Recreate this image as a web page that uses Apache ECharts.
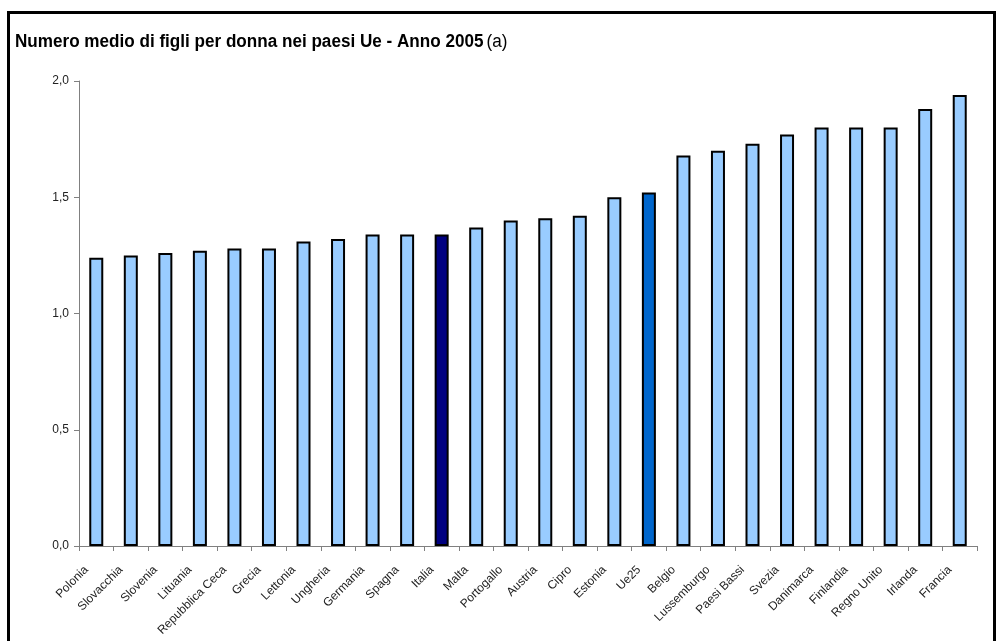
<!DOCTYPE html>
<html>
<head>
<meta charset="utf-8">
<script src="https://cdn.jsdelivr.net/npm/echarts@6/dist/echarts.min.js"></script>
<style>html,body{margin:0;padding:0;background:#fff;}#chart{width:1002px;height:641px;}</style>
</head>
<body>
<div id="chart"></div>
<script>
const categories = ["Polonia","Slovacchia","Slovenia","Lituania","Repubblica Ceca","Grecia","Lettonia","Ungheria","Germania","Spagna","Italia","Malta","Portogallo","Austria","Cipro","Estonia","Ue25","Belgio","Lussemburgo","Paesi Bassi","Svezia","Danimarca","Finlandia","Regno Unito","Irlanda","Francia"];
const values = [1.24,1.25,1.26,1.27,1.28,1.28,1.31,1.32,1.34,1.34,1.34,1.37,1.40,1.41,1.42,1.50,1.52,1.68,1.70,1.73,1.77,1.80,1.80,1.80,1.88,1.94];
const yTicks = [0, 0.5, 1.0, 1.5, 2.0];
const titleMain = "Numero medio di figli per donna nei paesi Ue - Anno 2005";
const titleNote = "(a)";

const FONT = '"Liberation Sans", Arial, sans-serif';
const colorFor = (name) => name === 'Italia' ? '#000080' : (name === 'Ue25' ? '#0066CC' : '#99CCFF');

const chart = echarts.init(document.getElementById('chart'), null, {renderer: 'canvas'});
chart.setOption({
  backgroundColor: '#ffffff',
  animation: false,
  graphic: [
    {type: 'rect', shape: {x: 8.5, y: 12.5, width: 986, height: 640}, style: {fill: 'none', stroke: '#000', lineWidth: 3}, silent: true},
    {
      type: 'text', x: 15, y: 42, scaleX: 0.95, silent: true,
      style: {
        text: '{b|' + titleMain + '} {n|' + titleNote + '}',
        verticalAlign: 'middle',
        rich: {
          b: {fontFamily: FONT, fontSize: 18, fontWeight: 'bold', fill: '#000'},
          n: {fontFamily: FONT, fontSize: 18, fontWeight: 'normal', fill: '#000'}
        }
      }
    }
  ],
  grid: {left: 79, right: 25, top: 81, bottom: 95, containLabel: false},
  xAxis: {
    type: 'category',
    data: categories,
    boundaryGap: true,
    axisLine: {lineStyle: {color: '#808080', width: 1}},
    axisTick: {show: true, length: 5, lineStyle: {color: '#808080'}},
    axisLabel: {rotate: 45, interval: 0, margin: 12, padding: [0, 14, 0, 0], fontFamily: FONT, fontSize: 12, color: '#222'}
  },
  yAxis: {
    type: 'value',
    min: 0, max: 2, interval: 0.5,
    splitLine: {show: false},
    axisLine: {show: true, lineStyle: {color: '#808080', width: 1}},
    axisTick: {show: true, length: 5, lineStyle: {color: '#808080'}},
    axisLabel: {
      margin: 10, fontFamily: FONT, fontSize: 12, color: '#222',
      formatter: (v) => yTicks.includes(v) ? v.toFixed(1).replace('.', ',') : ''
    }
  },
  series: [{
    type: 'bar',
    barWidth: 14,
    data: values.map((v, i) => ({value: v, itemStyle: {color: colorFor(categories[i])}})),
    itemStyle: {borderColor: '#000', borderWidth: 2}
  }]
});
</script>
</body>
</html>
